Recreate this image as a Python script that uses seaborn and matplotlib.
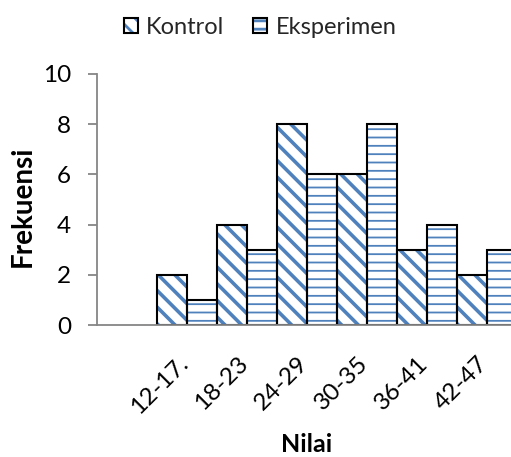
import matplotlib
matplotlib.use('Agg')
import matplotlib.pyplot as plt
import seaborn as sns
import pandas as pd
from matplotlib.patches import Patch
from matplotlib.transforms import ScaledTranslation

categories = ["12-17.", "18-23", "24-29", "30-35", "36-41", "42-47"]
kontrol = [2, 4, 8, 6, 3, 2]
eksperimen = [1, 3, 6, 8, 4, 3]
series = ["Kontrol", "Eksperimen"]
yticks = [0, 2, 4, 6, 8, 10]

df = pd.DataFrame({
    "Nilai": categories * 2,
    "Kelompok": [series[0]] * len(categories) + [series[1]] * len(categories),
    "Frekuensi": kontrol + eksperimen,
})

sns.set_theme(style='white')
plt.rcParams['font.family'] = ['Lato', 'DejaVu Sans']
plt.rcParams['hatch.linewidth'] = 2.0

BLUE = '#4F81BD'
GRAY = '#868686'
hatches = ['\\\\', '--']
hatch_lw = [2.6, 1.3]

fig = plt.figure(figsize=(5.11, 4.57), dpi=100)
ax = fig.add_axes([96.7 / 511, (457 - 325) / 457, 420 / 511, 251 / 457])

# hatched fill layer
sns.barplot(data=df, x='Nilai', y='Frekuensi', hue='Kelompok', order=categories,
            hue_order=series, palette=['white', 'white'], edgecolor=BLUE,
            linewidth=0, width=1, legend=False, errorbar=None, ax=ax)
for cont, h, hl in zip(ax.containers, hatches, hatch_lw):
    for bar in cont:
        bar.set_hatch(h)
        if hasattr(bar, 'set_hatch_linewidth'):
            bar.set_hatch_linewidth(hl)

# black outline layer
sns.barplot(data=df, x='Nilai', y='Frekuensi', hue='Kelompok', order=categories,
            hue_order=series, palette=['black', 'black'], fill=False,
            linewidth=1.5, width=1, legend=False, errorbar=None, ax=ax)

ax.set_xlim(-1.5, len(categories) - 0.5)
ax.set_ylim(0, 10)
ax.set_yticks(yticks)
ax.set_xticks(range(len(categories)))
ax.set_xticklabels(categories, rotation=45, ha='right')

for s in ['top', 'right']:
    ax.spines[s].set_visible(False)
for s in ['left', 'bottom']:
    ax.spines[s].set_color(GRAY)
    ax.spines[s].set_linewidth(1.3)

ax.tick_params(axis='y', left=True, length=6.5, width=1.3, color=GRAY,
               pad=12, labelsize=17.5, labelcolor='black')
ax.tick_params(axis='x', bottom=False, length=0, pad=20, labelsize=17.5,
               labelcolor='black')
off = ScaledTranslation(5 / 100, 0, fig.dpi_scale_trans)
for lbl in ax.get_xticklabels():
    lbl.set_transform(lbl.get_transform() + off)

ax.set_xlabel('Nilai', fontsize=18, fontweight='bold', color='black')
ax.xaxis.set_label_coords(0.5, (325 - 433) / 251)
ax.set_ylabel('Frekuensi', fontsize=20, fontweight='bold', color='black')
ax.yaxis.set_label_coords((36 - 96.7) / 420, (325 - 206) / 251)

handles = []
for h, hl in zip(hatches, hatch_lw):
    p1 = Patch(facecolor='white', edgecolor=BLUE, hatch=h, linewidth=0)
    if hasattr(p1, 'set_hatch_linewidth'):
        p1.set_hatch_linewidth(hl)
    p2 = Patch(facecolor='none', edgecolor='black', linewidth=1.5)
    handles.append((p1, p2))
fig.legend(handles, series, loc='center', bbox_to_anchor=(260 / 511, 1 - 27 / 457),
           ncol=2, frameon=False, fontsize=17, handlelength=0.62,
           handleheight=0.62, handletextpad=0.34, columnspacing=1.2,
           borderaxespad=0, borderpad=0)

fig.savefig('out.png', dpi=100)
